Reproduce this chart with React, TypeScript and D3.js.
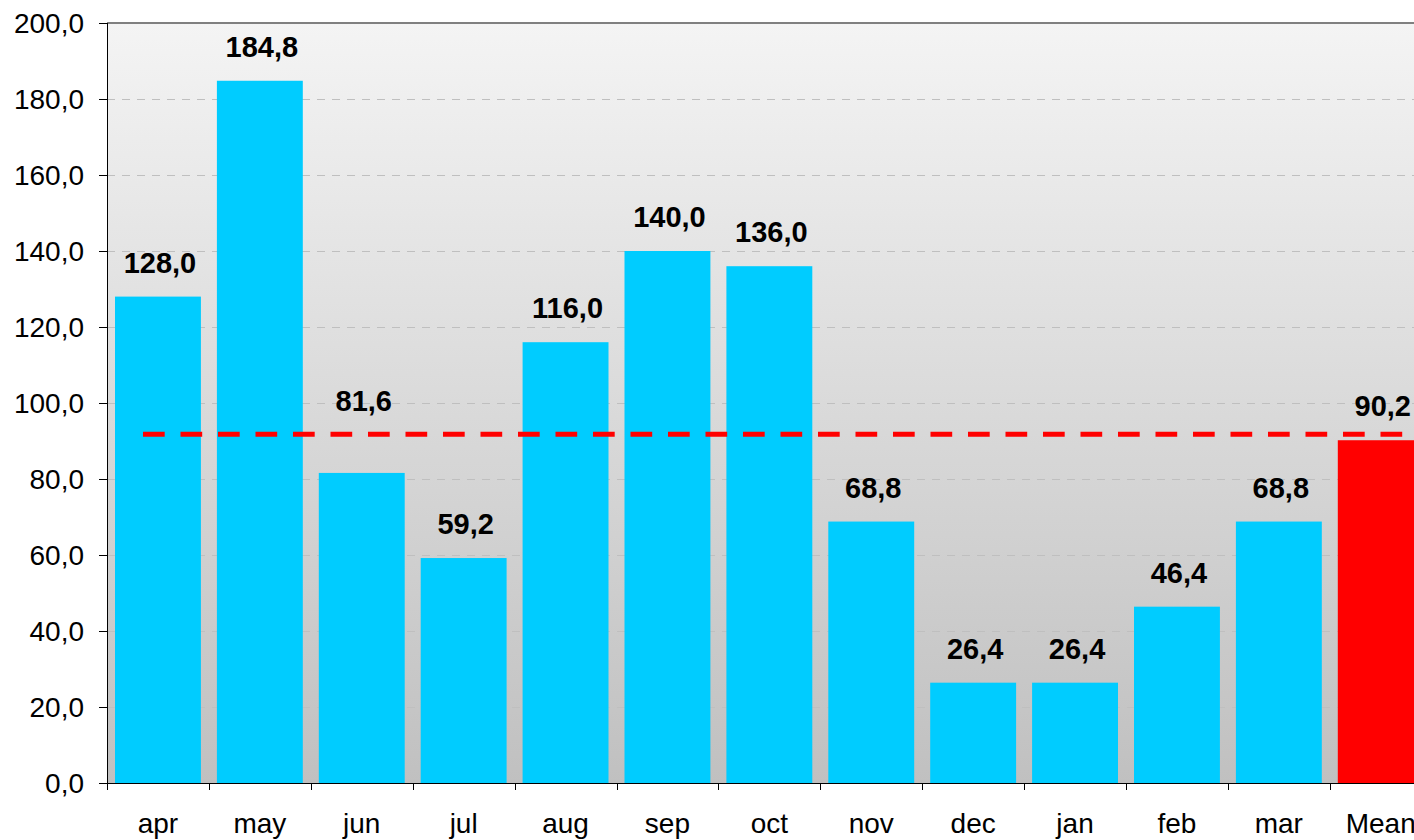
import { useEffect, useRef } from "react";
import * as d3 from "d3";

const months = ["apr", "may", "jun", "jul", "aug", "sep", "oct", "nov", "dec", "jan", "feb", "mar", "Mean"];
const values = [128.0, 184.8, 81.6, 59.2, 116.0, 140.0, 136.0, 68.8, 26.4, 26.4, 46.4, 68.8, 90.2];
const labelLift = [0, 0, 38, 0, 0, 0, 0, 0, 0, 0, 0, 0, 0]; // jun label was moved up in the original
const meanLineValue = 91.8;
const yTicks = [0, 20, 40, 60, 80, 100, 120, 140, 160, 180, 200];

const fmt = (v: number) => v.toFixed(1).replace(".", ",");

function BarChart() {
  const svgRef = useRef<SVGSVGElement | null>(null);
  const width = 1414;
  const height = 840;

  useEffect(() => {
    if (!svgRef.current) return;
    const margin = { top: 23, left: 107, bottom: 57 };
    const bandW = 101.9;
    const plotRight = margin.left + months.length * bandW;
    const plotBottom = height - margin.bottom;

    const svg = d3.select(svgRef.current);
    svg.selectAll("*").remove();

    const x = d3
      .scaleBand()
      .domain(months)
      .range([margin.left, plotRight])
      .paddingInner(0.157)
      .paddingOuter(0.0785);
    const y = d3.scaleLinear().domain([0, 200]).range([plotBottom, margin.top]);

    // background gradient
    const defs = svg.append("defs");
    const grad = defs
      .append("linearGradient")
      .attr("id", "bg")
      .attr("x1", 0)
      .attr("y1", 0)
      .attr("x2", 0)
      .attr("y2", 1);
    grad.append("stop").attr("offset", "0%").attr("stop-color", "#f4f4f4");
    grad.append("stop").attr("offset", "100%").attr("stop-color", "#c0c0c0");

    svg
      .append("rect")
      .attr("x", margin.left)
      .attr("y", margin.top)
      .attr("width", plotRight - margin.left)
      .attr("height", plotBottom - margin.top)
      .attr("fill", "url(#bg)");

    // gridlines
    svg
      .selectAll(".grid")
      .data(yTicks.filter((t) => t > 0 && t < 200))
      .enter()
      .append("line")
      .attr("x1", margin.left)
      .attr("x2", plotRight)
      .attr("y1", (d) => y(d) + 0.5)
      .attr("y2", (d) => y(d) + 0.5)
      .attr("stroke", "#bfbfbf")
      .attr("stroke-width", 1)
      .attr("stroke-dasharray", "8,7");

    // top border
    svg
      .append("line")
      .attr("x1", margin.left)
      .attr("x2", plotRight)
      .attr("y1", margin.top)
      .attr("y2", margin.top)
      .attr("stroke", "#808080")
      .attr("stroke-width", 2);

    // bars
    svg
      .selectAll(".bar")
      .data(values)
      .enter()
      .append("rect")
      .attr("x", (_, i) => x(months[i])!)
      .attr("y", (d) => y(d))
      .attr("width", x.bandwidth())
      .attr("height", (d) => plotBottom - y(d))
      .attr("fill", (_, i) => (months[i] === "Mean" ? "#ff0000" : "#00ccff"));

    // mean line
    svg
      .append("line")
      .attr("x1", x("apr")! + 28)
      .attr("x2", x("Mean")! + 66)
      .attr("y1", y(meanLineValue))
      .attr("y2", y(meanLineValue))
      .attr("stroke", "#ff0000")
      .attr("stroke-width", 5)
      .attr("stroke-dasharray", "21.7,15.8");

    // value labels
    svg
      .selectAll(".vlabel")
      .data(values)
      .enter()
      .append("text")
      .attr("x", (_, i) => x(months[i])! + x.bandwidth() / 2 + 2)
      .attr("y", (d, i) => y(d) - 24 - labelLift[i])
      .attr("text-anchor", "middle")
      .style("font-family", "'Liberation Sans', Arial, sans-serif")
      .style("font-size", "29px")
      .style("font-weight", "bold")
      .attr("fill", "#000")
      .text((d) => fmt(d));

    // y axis
    svg
      .append("line")
      .attr("x1", margin.left + 0.5)
      .attr("x2", margin.left + 0.5)
      .attr("y1", margin.top)
      .attr("y2", plotBottom)
      .attr("stroke", "#000");
    svg
      .selectAll(".ytick")
      .data(yTicks)
      .enter()
      .append("line")
      .attr("x1", margin.left - 8)
      .attr("x2", margin.left)
      .attr("y1", (d) => y(d) + 0.5)
      .attr("y2", (d) => y(d) + 0.5)
      .attr("stroke", "#000");
    svg
      .selectAll(".ylabel")
      .data(yTicks)
      .enter()
      .append("text")
      .attr("x", margin.left - 23)
      .attr("y", (d) => y(d) + 10)
      .attr("text-anchor", "end")
      .style("font-family", "'Liberation Sans', Arial, sans-serif")
      .style("font-size", "28px")
      .attr("fill", "#000")
      .text((d) => fmt(d));

    // x axis
    svg
      .append("line")
      .attr("x1", margin.left)
      .attr("x2", plotRight)
      .attr("y1", plotBottom + 0.5)
      .attr("y2", plotBottom + 0.5)
      .attr("stroke", "#000");
    svg
      .selectAll(".xtick")
      .data(months)
      .enter()
      .append("line")
      .attr("x1", (d) => Math.round(x(d)! - x.step() * 0.0785) + 0.5)
      .attr("x2", (d) => Math.round(x(d)! - x.step() * 0.0785) + 0.5)
      .attr("y1", plotBottom)
      .attr("y2", plotBottom + 7)
      .attr("stroke", "#000");
    svg
      .selectAll(".xlabel")
      .data(months)
      .enter()
      .append("text")
      .attr("x", (d) => x(d)! + x.bandwidth() / 2)
      .attr("y", plotBottom + 50)
      .attr("text-anchor", "middle")
      .style("font-family", "'Liberation Sans', Arial, sans-serif")
      .style("font-size", "28px")
      .attr("fill", "#000")
      .text((d) => d);
  }, []);

  return (
    <svg
      ref={svgRef}
      width={width}
      height={height}
      style={{ position: "absolute", left: 0, top: 0, background: "#fff" }}
    ></svg>
  );
}

export default function App() {
  return <BarChart />;
}
